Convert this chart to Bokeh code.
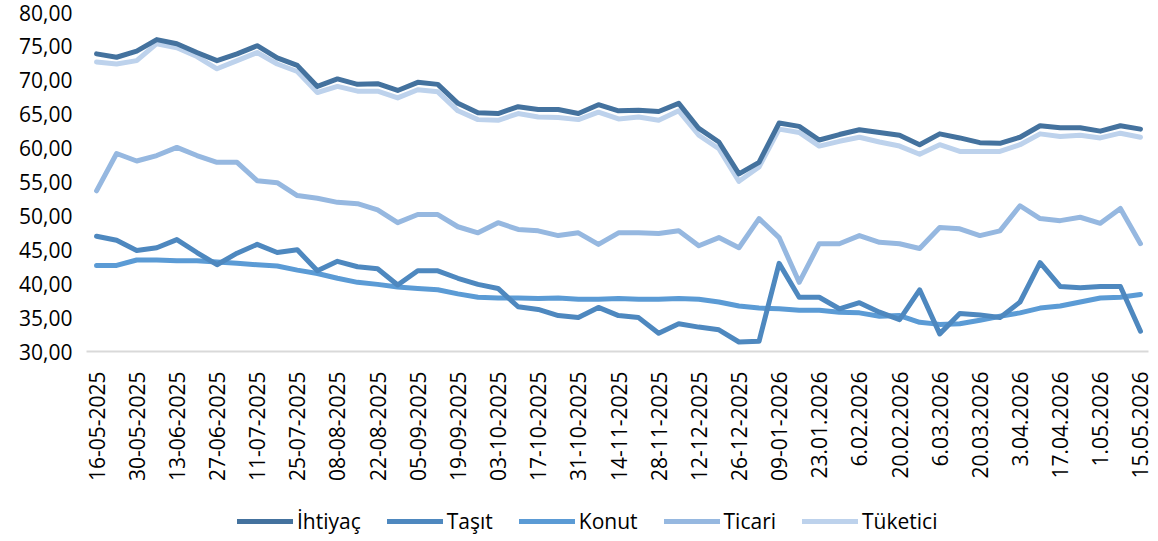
import math
from bokeh.plotting import figure
from bokeh.layouts import column
from bokeh.models import ColumnDataSource, Legend, LegendItem, FixedTicker, Range1d
from bokeh.embed import file_html
from bokeh.resources import INLINE

tick_labels = ["16-05-2025", "30-05-2025", "13-06-2025", "27-06-2025", "11-07-2025",
               "25-07-2025", "08-08-2025", "22-08-2025", "05-09-2025", "19-09-2025",
               "03-10-2025", "17-10-2025", "31-10-2025", "14-11-2025", "28-11-2025",
               "12-12-2025", "26-12-2025", "09-01-2026", "23.01.2026", "6.02.2026",
               "20.02.2026", "6.03.2026", "20.03.2026", "3.04.2026", "17.04.2026",
               "1.05.2026", "15.05.2026"]

ihtiyac = [73.9, 73.4, 74.3, 76.0, 75.4, 74.1, 72.9, 73.9, 75.1, 73.3,
           72.2, 69.1, 70.2, 69.4, 69.5, 68.5, 69.7, 69.4, 66.6, 65.2,
           65.1, 66.1, 65.7, 65.7, 65.1, 66.4, 65.5, 65.6, 65.4, 66.6,
           62.9, 60.9, 56.2, 57.9, 63.7, 63.2, 61.2, 62.0, 62.7, 62.3,
           61.9, 60.5, 62.1, 61.5, 60.8, 60.7, 61.6, 63.3, 63.0, 63.0,
           62.5, 63.3, 62.8]
tasit = [47.0, 46.4, 44.9, 45.3, 46.5, 44.6, 42.8, 44.5, 45.8, 44.6,
         45.0, 41.9, 43.3, 42.5, 42.2, 39.8, 41.9, 41.9, 40.8, 39.9,
         39.3, 36.6, 36.2, 35.3, 35.0, 36.5, 35.3, 35.0, 32.7, 34.1,
         33.6, 33.2, 31.4, 31.5, 43.0, 38.0, 38.0, 36.3, 37.2, 35.8,
         34.7, 39.1, 32.6, 35.6, 35.4, 35.0, 37.3, 43.1, 39.6, 39.4,
         39.6, 39.6, 33.0]
konut = [42.7, 42.7, 43.5, 43.5, 43.4, 43.4, 43.2, 43.0, 42.8, 42.6,
         42.0, 41.5, 40.8, 40.2, 39.9, 39.5, 39.3, 39.1, 38.5, 38.0,
         37.9, 37.9, 37.8, 37.9, 37.7, 37.7, 37.8, 37.7, 37.7, 37.8,
         37.7, 37.3, 36.7, 36.4, 36.3, 36.1, 36.1, 35.8, 35.7, 35.2,
         35.3, 34.3, 34.0, 34.1, 34.6, 35.2, 35.7, 36.4, 36.7, 37.3,
         37.9, 38.0, 38.4]
ticari = [53.7, 59.2, 58.1, 58.9, 60.1, 58.9, 57.9, 57.9, 55.2, 54.9,
          53.0, 52.6, 52.0, 51.8, 50.9, 49.0, 50.2, 50.2, 48.4, 47.5,
          49.0, 48.0, 47.8, 47.1, 47.5, 45.8, 47.5, 47.5, 47.4, 47.8,
          45.6, 46.8, 45.3, 49.6, 46.8, 40.2, 45.9, 45.9, 47.1, 46.1,
          45.9, 45.2, 48.3, 48.1, 47.1, 47.8, 51.5, 49.6, 49.3, 49.8,
          48.9, 51.1, 45.9]
tuketici = [72.7, 72.4, 72.9, 75.4, 74.8, 73.5, 71.7, 72.9, 74.1, 72.4,
            71.3, 68.2, 69.1, 68.4, 68.4, 67.4, 68.6, 68.3, 65.5, 64.2,
            64.1, 65.1, 64.6, 64.5, 64.2, 65.3, 64.3, 64.6, 64.1, 65.5,
            61.9, 59.9, 55.1, 57.2, 62.8, 62.3, 60.3, 61.0, 61.6, 60.9,
            60.3, 59.1, 60.5, 59.5, 59.5, 59.5, 60.5, 62.1, 61.7, 61.9,
            61.5, 62.2, 61.6]

names = ["İhtiyaç", "Taşıt", "Konut", "Ticari", "Tüketici"]
series = [ihtiyac, tasit, konut, ticari, tuketici]
colors = ["#44729E", "#4E88BF", "#5B9BD5", "#96B8E0", "#BDD2EC"]

x = list(range(len(ihtiyac)))
FONT = "Open Sans"

p = figure(width=1158, height=490, output_backend="svg", toolbar_location=None,
           x_range=Range1d(-0.5, 52.4), y_range=Range1d(30, 80),
           min_border_left=86, min_border_right=10, min_border_top=12, min_border_bottom=139)
p.outline_line_color = None
p.xgrid.grid_line_color = None
p.ygrid.grid_line_color = None

for name, vals, col in reversed(list(zip(names, series, colors))):
    src = ColumnDataSource(dict(x=x, y=vals))
    p.line("x", "y", source=src, line_color=col, line_width=5, line_join="round", line_cap="round")

yt = [30, 35, 40, 45, 50, 55, 60, 65, 70, 75, 80]
p.yaxis.ticker = FixedTicker(ticks=yt)
p.yaxis.major_label_overrides = {v: f"{v},00" for v in yt}
p.yaxis.axis_line_color = None
p.yaxis.major_tick_line_color = None
p.yaxis.minor_tick_line_color = None
p.yaxis.major_label_text_font = FONT
p.yaxis.major_label_text_font_size = "21px"
p.yaxis.major_label_text_color = "#000000"
p.yaxis.major_label_standoff = 8

tick_pos = list(range(0, 53, 2))
p.xaxis.ticker = FixedTicker(ticks=tick_pos)
p.xaxis.major_label_overrides = {t: lab for t, lab in zip(tick_pos, tick_labels)}
p.xaxis.major_label_orientation = math.pi / 2
p.xaxis.axis_line_color = "#D9D9D9"
p.xaxis.axis_line_width = 2
p.xaxis.major_tick_line_color = None
p.xaxis.minor_tick_line_color = None
p.xaxis.major_label_text_font = FONT
p.xaxis.major_label_text_font_size = "21px"
p.xaxis.major_label_text_color = "#000000"
p.xaxis.major_label_standoff = 14

# legend strip (its frame is aligned with the main frame by the column layout)
lg = figure(width=1158, height=51, output_backend="svg", toolbar_location=None,
            x_range=Range1d(0, 1), y_range=Range1d(0, 1),
            min_border_left=86, min_border_right=10, min_border_top=0, min_border_bottom=0)
lg.outline_line_color = None
lg.axis.visible = False
lg.grid.visible = False
items = []
for name, col in zip(names, colors):
    # dummy line kept outside the visible range; only its legend swatch shows
    r = lg.line(x=[5, 6], y=[5, 5], line_color=col, line_width=5, line_cap="round")
    items.append(LegendItem(label=name, renderers=[r]))

legend = Legend(items=items, orientation="horizontal", location=(151, 6),
                label_text_font=FONT, label_text_font_size="21px", label_text_color="#000000",
                glyph_width=56, glyph_height=20, label_height=20, label_standoff=4, spacing=26,
                border_line_color=None, background_fill_alpha=0, padding=0, margin=0)
lg.add_layout(legend, "center")

open("out.html", "w").write(file_html(column(p, lg, spacing=0), INLINE))
